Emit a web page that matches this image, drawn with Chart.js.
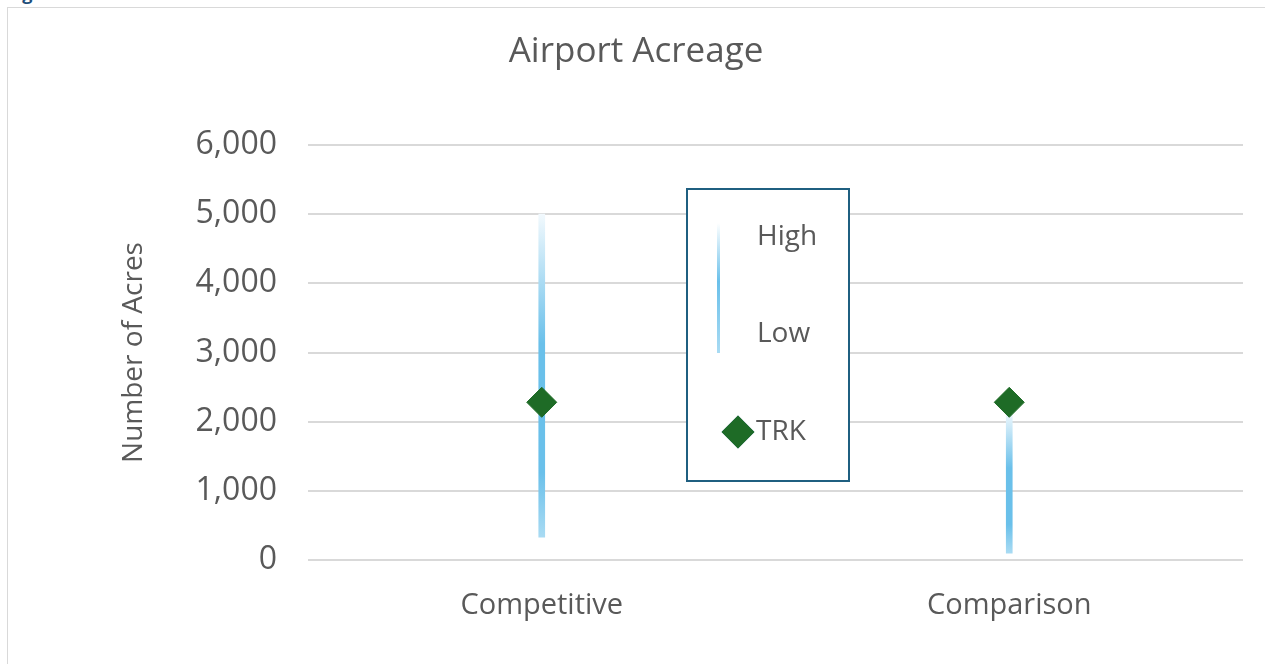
<!DOCTYPE html>
<html>
<head>
<meta charset="utf-8">
<title>Airport Acreage</title>
<script src="https://cdn.jsdelivr.net/npm/chart.js@4.4.1/dist/chart.umd.min.js"></script>
<style>
  html, body { margin: 0; padding: 0; background: #fff; overflow: hidden; }
  #caption { position: absolute; left: 7px; top: -16px; font: bold 18px/18px "Open Sans", sans-serif; color: #1F4E79; }
  #frame { position: absolute; left: 7px; top: 7px; width: 1300px; height: 700px; border: 1px solid #d9d9d9; box-sizing: border-box; }
  #wrap { position: absolute; left: 0; top: 0; width: 1265px; height: 664px; }
</style>
</head>
<body>
<div id="caption">Figure</div>
<div id="frame"></div>
<div id="wrap"><canvas id="myChart" width="1265" height="664"></canvas></div>
<script>
// 데이터
var categories = ['Competitive', 'Comparison'];
var seriesNames = ['High', 'Low', 'TRK'];
var highValues = [5000, 2150];
var lowValues = [330, 100];
var trkValues = [2280, 2280];
var yTicks = [0, 1000, 2000, 3000, 4000, 5000, 6000];

var textColor = '#595959';
var fontFamily = '"Open Sans", sans-serif';

// 막대 그라데이션 (위쪽 밝게, 가운데 진하게, 아래 조금 밝게)
function barGradient(ctx, top, bottom) {
	var g = ctx.createLinearGradient(0, top, 0, bottom);
	g.addColorStop(0, '#F2F9FD');
	g.addColorStop(0.4, '#6AC0EA');
	g.addColorStop(0.8, '#6AC0EA');
	g.addColorStop(1, '#A9DBF3');
	return g;
}

// 가운데 범례 상자
var boxLegend = {
	id: 'boxLegend',
	afterDatasetsDraw: function(chart) {
		var ctx = chart.ctx;
		ctx.save();
		ctx.fillStyle = '#ffffff';
		ctx.fillRect(687, 189, 162, 292);
		ctx.strokeStyle = '#1F5F80';
		ctx.lineWidth = 2;
		ctx.strokeRect(687, 189, 162, 292);

		// High-Low 선
		var g = ctx.createLinearGradient(0, 223, 0, 353);
		g.addColorStop(0, '#FFFFFF');
		g.addColorStop(0.45, '#6AC0EA');
		g.addColorStop(1, '#A9DBF3');
		ctx.fillStyle = g;
		ctx.fillRect(717, 223, 3, 130);

		// TRK 마름모
		var trk = chart.data.datasets[1];
		Chart.helpers.drawPoint(ctx, {
			pointStyle: 'rectRot', radius: 15, borderWidth: 1, rotation: 0
		}, 738, 432);
		ctx.fillStyle = trk.backgroundColor;
		ctx.strokeStyle = trk.borderColor;
		ctx.fill();
		ctx.stroke();

		ctx.fillStyle = textColor;
		ctx.font = '28px ' + fontFamily;
		ctx.textBaseline = 'middle';
		ctx.textAlign = 'left';
		ctx.fillText(seriesNames[0], 757, 237);
		ctx.fillText(seriesNames[1], 757, 334);
		ctx.fillText(seriesNames[2], 756, 432);
		ctx.restore();
	}
};

var ctx = document.getElementById('myChart').getContext('2d');
var myChart = new Chart(ctx, {
	data: {
		labels: categories,
		datasets: [{
			type: 'bar',
			label: seriesNames[0] + '-' + seriesNames[1],
			data: categories.map(function(c, i) { return [lowValues[i], highValues[i]]; }),
			barThickness: 6,
			borderWidth: 0,
			backgroundColor: function(c) {
				var chart = c.chart;
				if (!chart.chartArea || !chart.scales.y || !c.raw) return '#6AC0EA';
				var y = chart.scales.y;
				return barGradient(chart.ctx, y.getPixelForValue(c.raw[1]), y.getPixelForValue(c.raw[0]));
			},
			order: 2
		}, {
			type: 'line',
			label: seriesNames[2],
			data: trkValues,
			showLine: false,
			pointStyle: 'rectRot',
			pointRadius: 15,
			pointHoverRadius: 15,
			borderWidth: 1,
			backgroundColor: '#1E6B26',
			borderColor: '#1E6B26',
			order: 1
		}]
	},
	options: {
		responsive: false,
		devicePixelRatio: 1,
		animation: false,
		layout: { padding: { left: 29, right: 22, top: 0, bottom: 0 } },
		plugins: {
			legend: { display: false },
			tooltip: { enabled: false },
			title: {
				display: true,
				text: 'Airport Acreage',
				color: textColor,
				font: { family: fontFamily, size: 35, weight: 'normal' },
				padding: { top: 31, bottom: 72 }
			}
		},
		scales: {
			x: {
				grid: { display: false },
				border: { display: false },
				ticks: { color: textColor, font: { family: fontFamily, size: 29 }, padding: 20 },
				afterFit: function(scale) { scale.height = 104; }
			},
			y: {
				min: yTicks[0],
				max: yTicks[yTicks.length - 1],
				afterBuildTicks: function(scale) {
					scale.ticks = yTicks.map(function(v) { return { value: v }; });
				},
				grid: { color: '#D9D9D9', lineWidth: 2, drawTicks: false },
				border: { display: false },
				ticks: {
					color: textColor,
					font: { family: fontFamily, size: 32 },
					padding: 31,
					callback: function(v) { return v.toLocaleString('en-US'); }
				},
				title: {
					display: true,
					text: 'Number of Acres',
					color: textColor,
					font: { family: fontFamily, size: 28 },
					padding: { top: 88, bottom: 0 }
				},
				afterFit: function(scale) { scale.width = 279; }
			}
		}
	},
	plugins: [boxLegend]
});
</script>
</body>
</html>
